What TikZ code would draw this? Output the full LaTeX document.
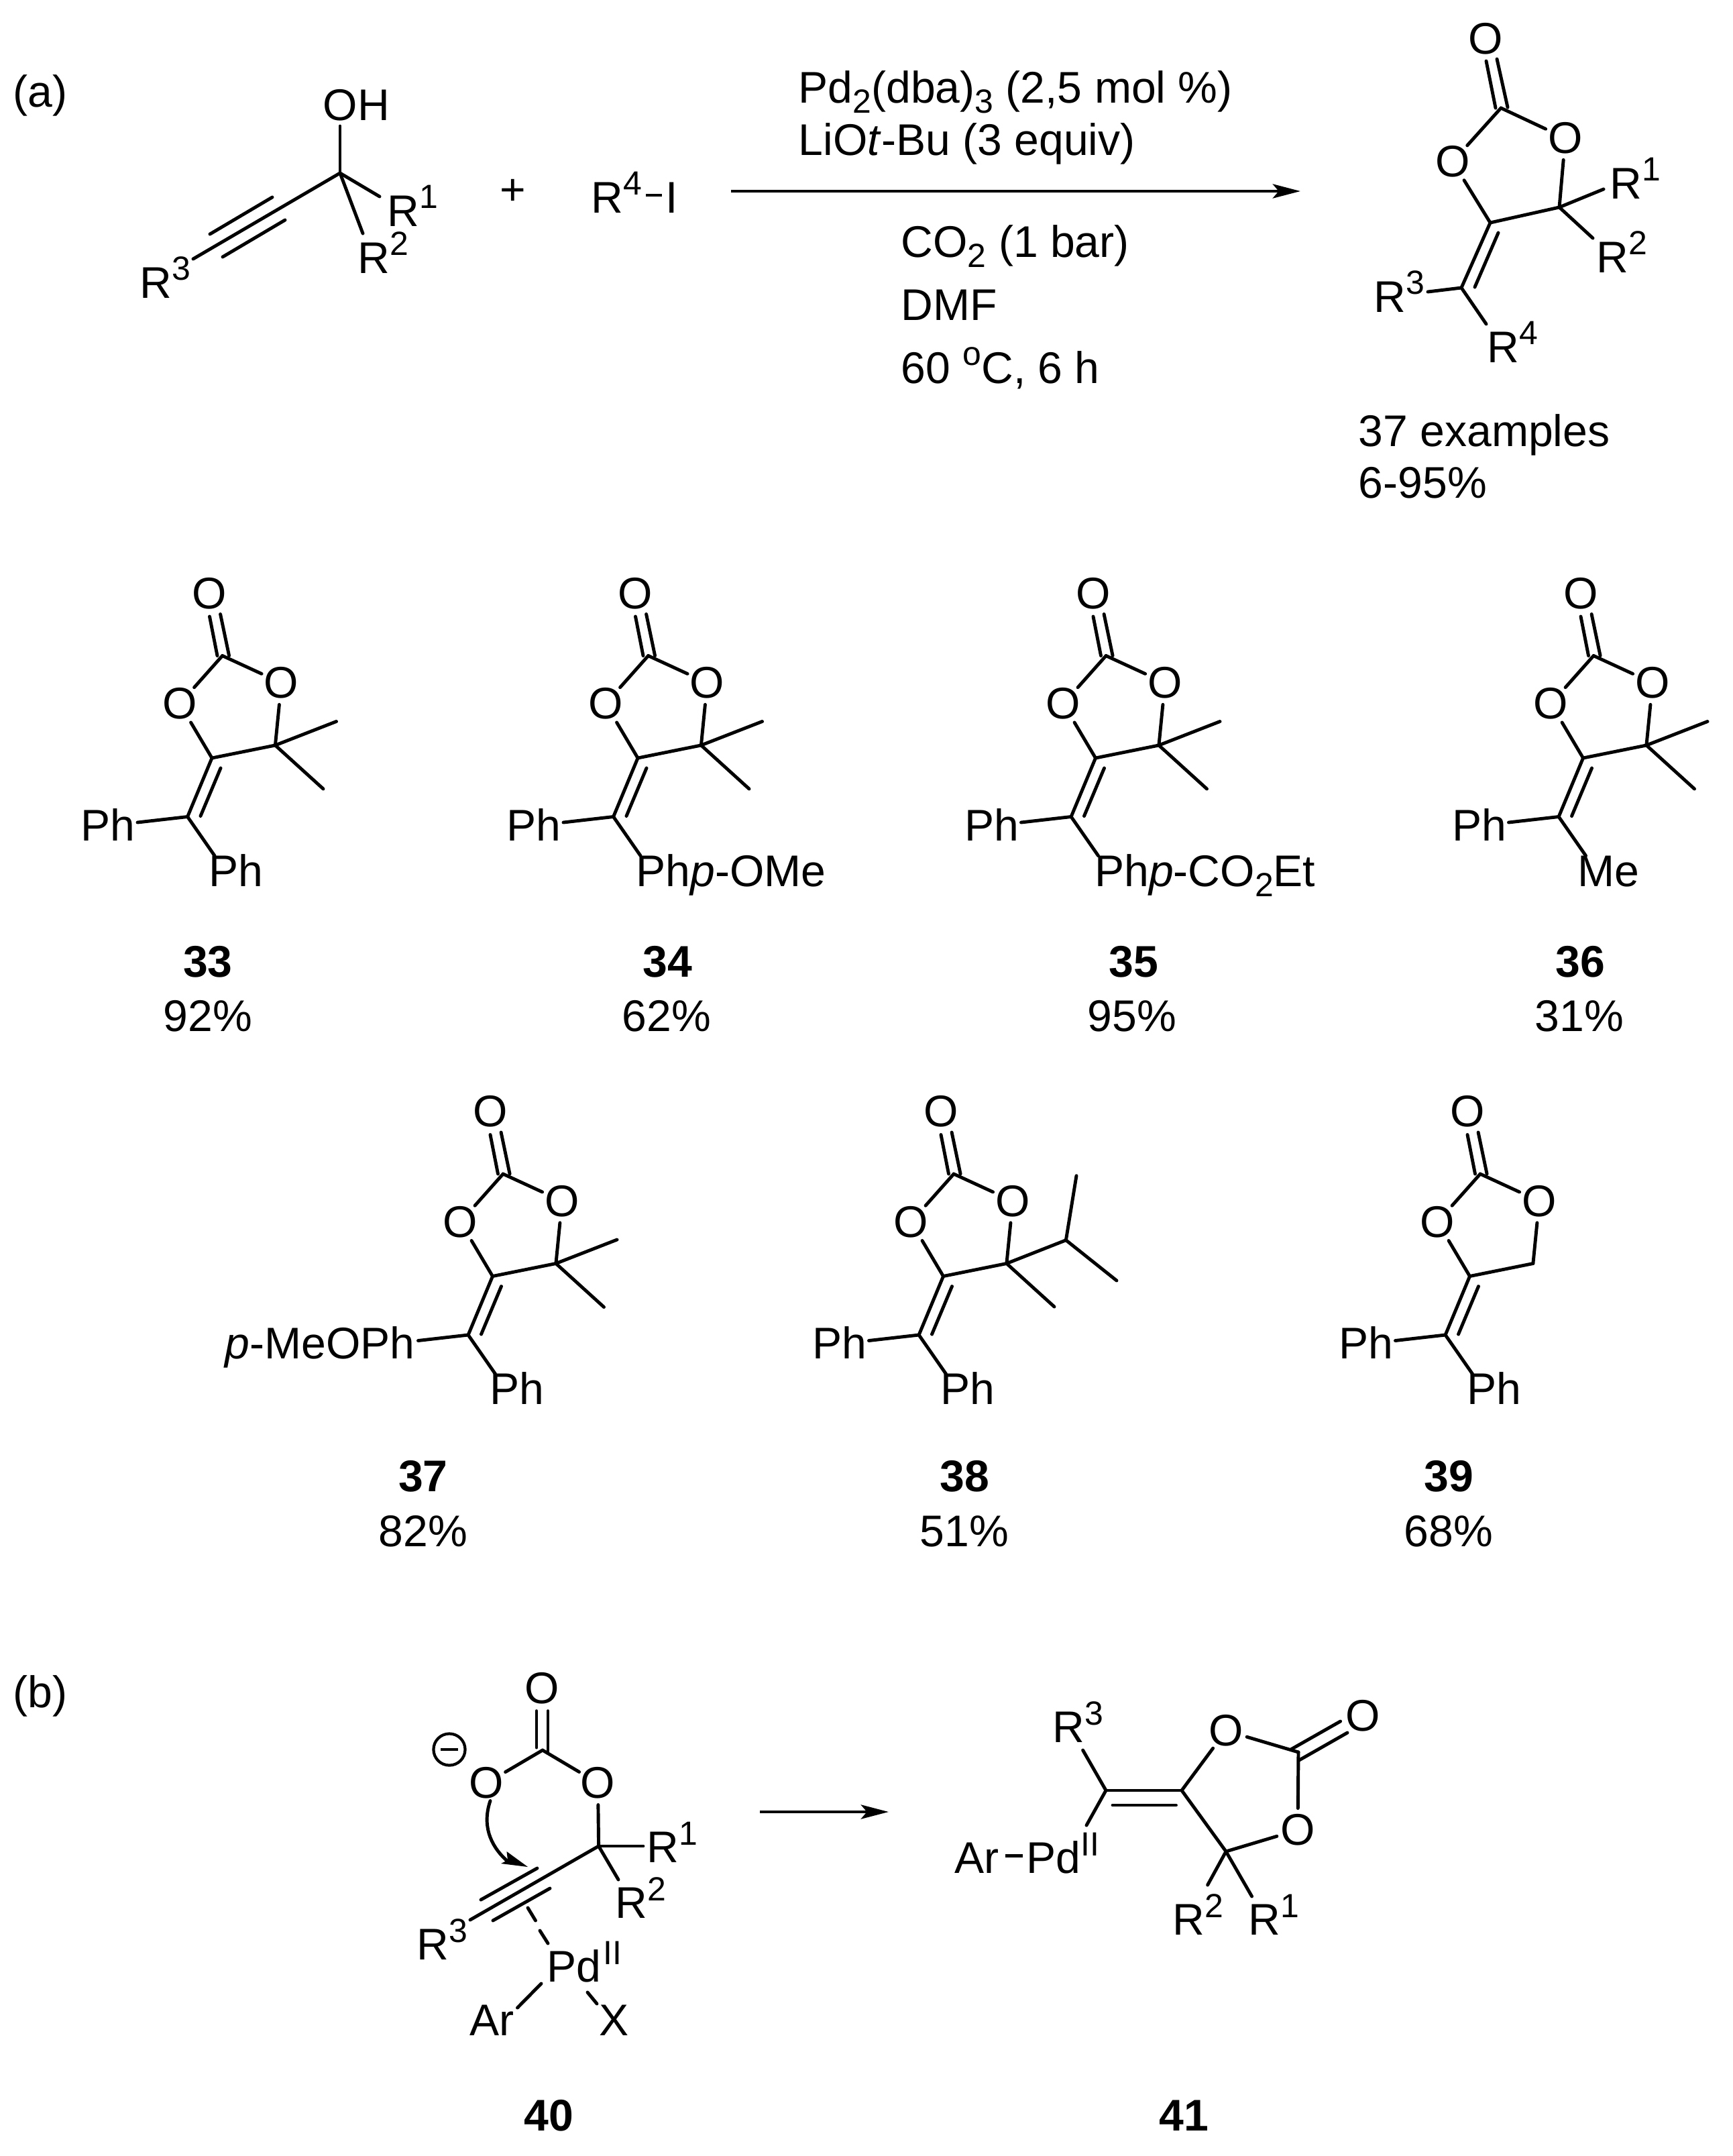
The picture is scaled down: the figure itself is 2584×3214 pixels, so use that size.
\documentclass[tikz,border=0pt]{standalone}
\usepackage{fontspec}
\setmainfont{Liberation Sans}
\usetikzlibrary{arrows.meta}
\newcommand\upi[1]{\raisebox{7.4pt}{\fontsize{14.2}{16}\selectfont #1}}
\newcommand\dnf[1]{\raisebox{-4.3pt}{\fontsize{14.2}{16}\selectfont #1}}
\tikzset{
  txt/.style={font=\fontsize{18.8}{22}\selectfont,inner sep=0pt,anchor=base west,text=black},
  mid/.style={txt,anchor=base},
  atom/.style={font=\fontsize{18.8}{22}\selectfont,circle,inner sep=-0.6pt,text=black},
  bond/.style={draw=black,line width=1.4pt,line cap=round},
  rxn/.style={draw=black,line width=1.4pt,-{Stealth[length=11.7pt,width=6pt,inset=2.5pt]}},
}
% common skeleton of 33-39, in the local frame of compound 33
\newcommand\ringcore[4]{
  \node[atom] (Otop) at (312.5,884.5) {O};
  \node[atom] (Ol) at (268,1049) {O};
  \node[atom] (Or) at (419.6,1018) {O};
  \coordinate (C2) at (331.6,977.5);
  \coordinate (C4) at (316,1130);
  \coordinate (C5) at (410.4,1111);
  \coordinate (Cx) at (279.6,1217.5);
  \coordinate (d1a) at (312.5,919);
  \coordinate (d1b) at (324,977.5);
  \coordinate (d2a) at (328.6,915.5);
  \coordinate (d2b) at (341.6,977.5);
  \coordinate (e1) at (329,1145);
  \coordinate (e2) at (299,1216.5);
  \coordinate (lb) at (205,1226);
  \coordinate (bb) at (320,1275.6);
  \node[txt] (subL) at (#1,1253) {#2};
  \node[txt] (subB) at (#3,1321) {#4};
  \draw[bond] (d1a) -- (d1b);
  \draw[bond] (d2a) -- (d2b);
  \draw[bond] (C2) -- (Ol);
  \draw[bond] (C2) -- (Or);
  \draw[bond] (Ol) -- (C4);
  \draw[bond] (Or) -- (C5);
  \draw[bond] (C4) -- (C5);
  \draw[bond] (C4) -- (Cx);
  \draw[bond] (e1) -- (e2);
  \draw[bond] (Cx) -- (lb);
  \draw[bond] (Cx) -- (bb);
}
\newcommand\methyls{
  \coordinate (m1) at (501.5,1075.5);
  \coordinate (m2) at (482,1176);
  \draw[bond] (C5) -- (m1);
  \draw[bond] (C5) -- (m2);
}
\begin{document}
\begin{tikzpicture}[x=0.01cm,y=-0.01cm]
\useasboundingbox (0,0) rectangle (2584,3214);
\fill[white] (0,0) rectangle (2584,3214);

% ---------- (a) reaction
\node[txt] (la) at (19,159) {(a)};
\node[txt] (oh) at (481,179) {OH};
\node[txt] (ra1) at (577,337) {R\upi{1}};
\node[txt] (ra2) at (533,407) {R\upi{2}};
\node[txt] (ra3) at (208,444) {R\upi{3}};
\coordinate (aC) at (507,258);
\coordinate (aOH) at (507,188);
\coordinate (aR1) at (566,293);
\coordinate (aR2) at (541,348);
\coordinate (aR3) at (288,386);
\coordinate (at1) at (406,294);
\coordinate (at2) at (313,349);
\coordinate (at3) at (425,328);
\coordinate (at4) at (332,383);
\draw[bond] (aC) -- (aOH);
\draw[bond] (aC) -- (aR1);
\draw[bond] (aC) -- (aR2);
\draw[bond] (aC) -- (aR3);
\draw[bond] (at1) -- (at2);
\draw[bond] (at3) -- (at4);
\node[font=\fontsize{18.8}{22}\selectfont,inner sep=0pt] (plus) at (765,286) {+};
\node[txt] (r4i) at (881,317) {R\upi{4}};
\node[txt] (iod) at (992,317) {I};
\coordinate (id1) at (963,291);
\coordinate (id2) at (987,291);
\draw[bond,line cap=butt] (id1) -- (id2);

\coordinate (ar1) at (1090,285);
\coordinate (ar2) at (1939,285);
\draw[rxn] (ar1) -- (ar2);
\node[txt] (t1) at (1190,153) {Pd\dnf{2}(dba)\dnf{3} (2,5 mol \%)};
\node[txt] (t2) at (1190,231) {LiO\textit{t}-Bu (3 equiv)};
\node[txt] (t3) at (1343,383) {CO\dnf{2} (1 bar)};
\node[txt] (t4) at (1343,477) {DMF};
\node[txt] (t5) at (1343,571) {60 \upi{o}C, 6 h};

% product
\node[atom] (pOt) at (2215,58) {O};
\node[atom] (pOl) at (2166,241) {O};
\node[atom] (pOr) at (2334,206) {O};
\coordinate (pC2) at (2238,161);
\coordinate (pC4) at (2222,332);
\coordinate (pC5) at (2325,309);
\coordinate (pCx) at (2179,429);
\coordinate (pd1) at (2216,91);
\coordinate (pd2) at (2230,161);
\coordinate (pd3) at (2232,88);
\coordinate (pd4) at (2248,160);
\coordinate (pe1) at (2234,347);
\coordinate (pe2) at (2199,428);
\coordinate (pR1) at (2391,282);
\coordinate (pR2) at (2375,355);
\coordinate (pR3) at (2129,435);
\coordinate (pR4) at (2216,483);
\draw[bond] (pd1) -- (pd2);
\draw[bond] (pd3) -- (pd4);
\draw[bond] (pC2) -- (pOl);
\draw[bond] (pC2) -- (pOr);
\draw[bond] (pOl) -- (pC4);
\draw[bond] (pOr) -- (pC5);
\draw[bond] (pC4) -- (pC5);
\draw[bond] (pC4) -- (pCx);
\draw[bond] (pe1) -- (pe2);
\draw[bond] (pC5) -- (pR1);
\draw[bond] (pC5) -- (pR2);
\draw[bond] (pCx) -- (pR3);
\draw[bond] (pCx) -- (pR4);
\node[txt] (pt1) at (2400,296) {R\upi{1}};
\node[txt] (pt2) at (2380,406) {R\upi{2}};
\node[txt] (pt3) at (2048,465) {R\upi{3}};
\node[txt] (pt4) at (2217,540) {R\upi{4}};
\node[txt] (ex1) at (2025,665) {37 examples};
\node[txt] (ex2) at (2025,742) {6-95\%};

% ---------- compounds
\begin{scope}[name prefix=c33-]
  \ringcore{120}{Ph}{311}{Ph}\methyls
\end{scope}
\begin{scope}[shift={(635,0)},name prefix=c34-]
  \ringcore{120}{Ph}{313}{Ph\textit{p}-OMe}\methyls
\end{scope}
\begin{scope}[shift={(1317.5,0)},name prefix=c35-]
  \ringcore{120}{Ph}{314}{Ph\textit{p}-CO\dnf{2}Et}\methyls
\end{scope}
\begin{scope}[shift={(2044.5,0)},name prefix=c36-]
  \ringcore{120}{Ph}{307}{Me}\methyls
\end{scope}
\begin{scope}[shift={(418.5,772.5)},name prefix=c37-]
  \ringcore{-83.5}{\textit{p}-MeOPh}{311}{Ph}\methyls
\end{scope}
\begin{scope}[shift={(1090.5,772.5)},name prefix=c38-]
  \ringcore{120}{Ph}{311}{Ph}
  \coordinate (ipr) at (498.9,1076.2);
  \coordinate (ime1) at (514.5,980.2);
  \coordinate (ime2) at (574.5,1136.5);
  \coordinate (m2) at (481.5,1175.5);
  \draw[bond] (C5) -- (ipr);
  \draw[bond] (ipr) -- (ime1);
  \draw[bond] (ipr) -- (ime2);
  \draw[bond] (C5) -- (m2);
\end{scope}
\begin{scope}[shift={(1875.5,772.5)},name prefix=c39-]
  \ringcore{120}{Ph}{311}{Ph}
\end{scope}

\node[mid] (n33) at (310,1456) {\textbf{33}};
\node[mid] (y33) at (310,1537) {92\%};
\node[mid] (n34) at (995,1456) {\textbf{34}};
\node[mid] (y34) at (994,1537) {62\%};
\node[mid] (n35) at (1690,1456) {\textbf{35}};
\node[mid] (y35) at (1688,1537) {95\%};
\node[mid] (n36) at (2356,1456) {\textbf{36}};
\node[mid] (y36) at (2355,1537) {31\%};
\node[mid] (n37) at (631,2223.5) {\textbf{37}};
\node[mid] (y37) at (631,2305) {82\%};
\node[mid] (n38) at (1438,2223.5) {\textbf{38}};
\node[mid] (y38) at (1438,2305) {51\%};
\node[mid] (n39) at (2160,2223.5) {\textbf{39}};
\node[mid] (y39) at (2160,2305) {68\%};

% ---------- (b) mechanism
\node[txt] (lb) at (19,2545) {(b)};

% 40
\node[atom] (bOt) at (808,2517) {O};
\node[atom] (bOl) at (725.6,2658) {O};
\node[atom] (bOr) at (891.5,2658) {O};
\coordinate (bC) at (809,2609);
\coordinate (bCq) at (892.6,2752);
\coordinate (bd1) at (800,2550.6);
\coordinate (bd2) at (800,2605);
\coordinate (bd3) at (817,2550.6);
\coordinate (bd4) at (817,2613);
\coordinate (bR1) at (959,2752);
\coordinate (bR2) at (922,2802);
\coordinate (bR3) at (701,2862);
\coordinate (bt1) at (801,2785);
\coordinate (bt2) at (717,2832);
\coordinate (bt3) at (820,2815);
\coordinate (bt4) at (735,2863);
\draw[bond] (bd1) -- (bd2);
\draw[bond] (bd3) -- (bd4);
\draw[bond] (bC) -- (bOl);
\draw[bond] (bC) -- (bOr);
\draw[bond] (bOr) -- (bCq);
\draw[bond] (bCq) -- (bR1);
\draw[bond] (bCq) -- (bR2);
\draw[bond] (bCq) -- (bR3);
\draw[bond] (bt1) -- (bt2);
\draw[bond] (bt3) -- (bt4);
\node[txt] (bt1R) at (964,2776) {R\upi{1}};
\node[txt] (bt2R) at (917,2859.5) {R\upi{2}};
\node[txt] (bt3R) at (621,2921) {R\upi{3}};
\node[txt] (bPd) at (815,2954) {Pd\kern0.8pt\upi{II}};
\node[txt] (bAr) at (700,3034.5) {Ar};
\node[txt] (bX) at (893,3034.5) {X};
\coordinate (pa1) at (787,2844);
\coordinate (pa2) at (798.5,2863);
\coordinate (pa3) at (805,2878);
\coordinate (pa4) at (817,2897);
\draw[bond] (pa1) -- (pa2);
\draw[bond] (pa3) -- (pa4);
\coordinate (pb1) at (807,2957);
\coordinate (pb2) at (771.5,2993);
\draw[bond] (pb1) -- (pb2);
\coordinate (pc1) at (876,2970);
\coordinate (pc2) at (890,2987);
\draw[bond] (pc1) -- (pc2);
% charge
\node[circle,draw=black,line width=1.2pt,minimum size=13.4pt,inner sep=0pt] (chg) at (670,2608) {};
\coordinate (ma) at (657,2608);
\coordinate (mb) at (683,2608);
\draw[bond,line cap=butt] (ma) -- (mb);
% curved arrow
\coordinate (ca1) at (731,2684.5);
\coordinate (ca2) at (755,2773);
\coordinate (catip) at (787,2783);
\coordinate (cab1) at (755.5,2760);
\coordinate (cab2) at (747,2778);
\coordinate (cab3) at (757,2773);
\draw[bond] (ca1) .. controls (719,2720) and (730,2750) .. (ca2);
\fill[black] (catip) -- (cab1) -- (cab3) -- (cab2) -- cycle;
% arrow
\coordinate (ar3) at (1133,2701);
\coordinate (ar4) at (1325,2701);
\draw[rxn] (ar3) -- (ar4);
\node[mid] (n40) at (818.6,3176) {\textbf{40}};

% 41
\node[atom] (qOu) at (1828,2580) {O};
\node[atom] (qOc) at (2032.5,2558) {O};
\node[atom] (qOd) at (1935,2728) {O};
\coordinate (qC) at (1936,2612);
\coordinate (qC4) at (1762,2669);
\coordinate (qCx) at (1649,2669);
\coordinate (qCq) at (1828,2760);
\coordinate (qe1) at (1659,2691);
\coordinate (qe2) at (1753.5,2691);
\coordinate (qR3) at (1614.6,2609);
\coordinate (qPd) at (1620,2721);
\coordinate (qd1) at (1924.6,2608);
\coordinate (qd2) at (1998.6,2566);
\coordinate (qd3) at (1937,2624);
\coordinate (qd4) at (2009,2583);
\coordinate (qR2) at (1800.6,2810);
\coordinate (qR1) at (1866.6,2827);
\coordinate (qm1) at (1499,2766.6);
\coordinate (qm2) at (1525,2766.6);
\draw[bond] (qCx) -- (qR3);
\draw[bond] (qCx) -- (qC4);
\draw[bond] (qe1) -- (qe2);
\draw[bond] (qCx) -- (qPd);
\draw[bond] (qC4) -- (qOu);
\draw[bond] (qOu) -- (qC);
\draw[bond] (qd1) -- (qd2);
\draw[bond] (qd3) -- (qd4);
\draw[bond] (qC) -- (qOd);
\draw[bond] (qOd) -- (qCq);
\draw[bond] (qCq) -- (qC4);
\draw[bond] (qCq) -- (qR2);
\draw[bond] (qCq) -- (qR1);
\draw[bond,line cap=butt] (qm1) -- (qm2);
\node[txt] (qt3) at (1569,2597) {R\upi{3}};
\node[txt] (qAr) at (1423,2792) {Ar};
\node[txt] (qPdt) at (1530,2792) {Pd\upi{II}};
\node[txt] (qt2) at (1748,2884) {R\upi{2}};
\node[txt] (qt1) at (1861,2884) {R\upi{1}};
\node[mid] (n41) at (1765,3176) {\textbf{41}};
\end{tikzpicture}
\end{document}
